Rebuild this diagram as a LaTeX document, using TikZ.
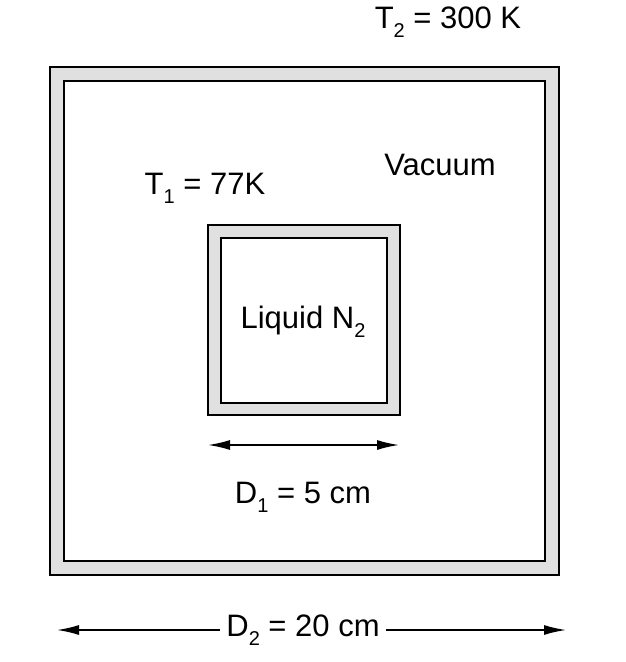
\documentclass[tikz,border=0pt]{standalone}
\usepackage{fontspec}
\setmainfont{Liberation Sans}
\usetikzlibrary{arrows.meta}
\newcommand{\sub}[1]{\raisebox{-0.3em}{\fontsize{20}{22}\selectfont #1}}
\begin{document}
\begin{tikzpicture}[x=1pt,y=-1pt,
  wall/.style={draw=black,line width=1.6pt,fill=black!12},
  hole/.style={draw=black,line width=1.6pt,fill=white},
  lbl/.style={font=\fontsize{31}{34}\selectfont,inner sep=1pt},
  dim/.style={line width=1.6pt,{Latex[length=22pt,width=10pt]}-{Latex[length=22pt,width=10pt]}}]
\useasboundingbox (0,0) rectangle (626,662);
\draw[wall] (50,67) rectangle (559,575);
\draw[hole] (64,81) rectangle (545,561);
\draw[wall] (208,225) rectangle (400,415);
\draw[hole] (221,238) rectangle (387,403);
\coordinate (d1a) at (208,445);
\coordinate (d1b) at (399,445);
\draw[dim] (d1a) -- (d1b);
\node[lbl] (d1) at (303,497) {D\sub{1} = 5 cm};
\node[lbl,fill=white,inner sep=6pt] (d2) at (303,630) {D\sub{2} = 20 cm};
\coordinate (d2a) at (57,630);
\coordinate (d2b) at (566,630);
\draw[line width=1.6pt,-{Latex[length=22pt,width=10pt]}] (d2.west) -- (d2a);
\draw[line width=1.6pt,-{Latex[length=22pt,width=10pt]}] (d2.east) -- (d2b);
\node[lbl] (t2) at (448,22) {T\sub{2} = 300 K};
\node[lbl] (vac) at (440,165) {Vacuum};
\node[lbl] (t1) at (205,188) {T\sub{1} = 77K};
\node[lbl] (ln) at (303,322) {Liquid N\sub{2}};
\end{tikzpicture}
\end{document}
